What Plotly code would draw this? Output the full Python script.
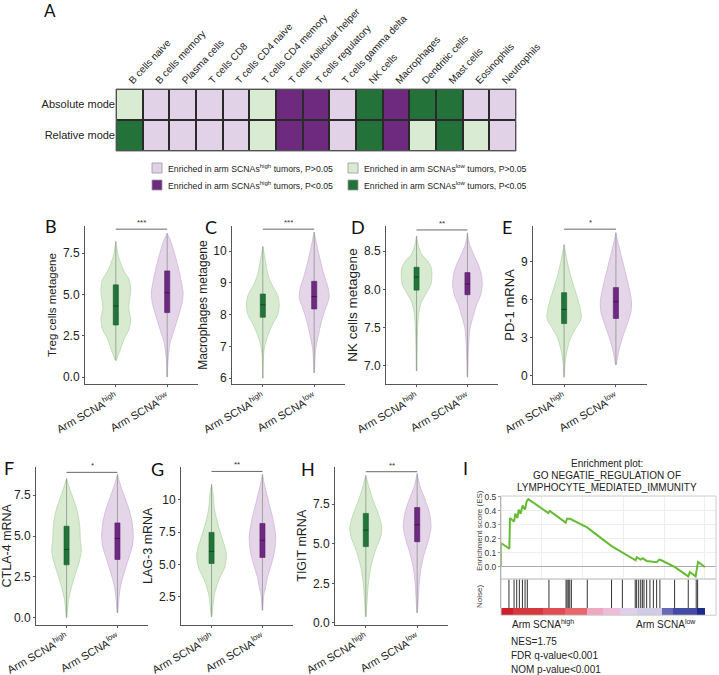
import plotly.graph_objects as go

W, H = 719, 675


def fx(p):
    return p / W


def fy(p):
    return 1 - p / H


# ---------------- Panel A data ----------------
cell_types = ["B cells naive", "B cells memory", "Plasma cells", "T cells CD8",
              "T cells CD4 naive", "T cells CD4 memory", "T cells follicular helper",
              "T cells regulatory", "T cells gamma delta", "NK cells", "Macrophages",
              "Dendritic cells", "Mast cells", "Eosinophils", "Neutrophils"]
modes = ["Absolute mode", "Relative mode"]
# 0 = enriched high P>0.05, 1 = enriched high P<0.05, 2 = enriched low P>0.05, 3 = enriched low P<0.05
absolute_codes = [2, 0, 0, 0, 0, 2, 1, 1, 0, 3, 1, 3, 3, 0, 0]
relative_codes = [3, 0, 0, 0, 0, 2, 1, 1, 0, 3, 1, 2, 3, 2, 0]
legend_labels = ["Enriched in arm SCNAs<sup>high</sup> tumors, P>0.05",
                 "Enriched in arm SCNAs<sup>high</sup> tumors, P<0.05",
                 "Enriched in arm SCNAs<sup>low</sup> tumors, P>0.05",
                 "Enriched in arm SCNAs<sup>low</sup> tumors, P<0.05"]

# ---------------- Violin data (profile: y levels, half widths; box: q1, median, q3) ----------------
group_labels = ["Arm SCNA<sup>high</sup>", "Arm SCNA<sup>low</sup>"]

B_high_y = [1.0, 1.6, 2.3, 2.9, 3.5, 4.2, 4.7, 5.3, 5.9, 6.4, 7.3, 8.2]
B_high_w = [0.01, 0.08, 0.16, 0.26, 0.29, 0.25, 0.27, 0.29, 0.26, 0.16, 0.05, 0.0]
B_high_box = [3.15, 4.3, 5.58]
B_low_y = [0.0, 0.85, 1.5, 2.1, 2.9, 3.7, 4.5, 5.1, 5.5, 6.3, 7.3, 8.3, 8.7]
B_low_w = [0.006, 0.013, 0.03, 0.06, 0.14, 0.22, 0.29, 0.31, 0.29, 0.24, 0.16, 0.06, 0.0]
B_low_box = [3.9, 5.1, 6.42]

C_high_y = [6.0, 6.7, 7.04, 7.35, 7.7, 8.0, 8.3, 8.6, 8.94, 9.26, 9.7, 10.15]
C_high_w = [0.006, 0.013, 0.04, 0.1, 0.19, 0.29, 0.32, 0.29, 0.18, 0.1, 0.05, 0.0]
C_high_box = [7.92, 8.31, 8.65]
C_low_y = [6.17, 6.5, 6.93, 7.35, 7.78, 8.2, 8.52, 8.84, 9.26, 9.7, 10.2, 10.6]
C_low_w = [0.006, 0.013, 0.03, 0.08, 0.14, 0.22, 0.29, 0.27, 0.19, 0.12, 0.05, 0.0]
C_low_box = [8.18, 8.57, 9.05]

D_high_y = [6.93, 7.27, 7.57, 7.71, 7.84, 7.95, 8.06, 8.17, 8.28, 8.37, 8.46, 8.59, 8.70]
D_high_w = [0.006, 0.013, 0.026, 0.05, 0.1, 0.19, 0.28, 0.3, 0.29, 0.22, 0.1, 0.03, 0.0]
D_high_box = [7.99, 8.16, 8.29]
D_low_y = [6.85, 7.09, 7.31, 7.49, 7.62, 7.8, 7.93, 8.06, 8.2, 8.33, 8.46, 8.59, 8.74]
D_low_w = [0.006, 0.013, 0.026, 0.05, 0.1, 0.18, 0.26, 0.29, 0.27, 0.21, 0.12, 0.04, 0.0]
D_low_box = [7.93, 8.07, 8.22]

E_high_y = [-0.1, 1.06, 1.86, 2.92, 3.7, 4.5, 5.3, 6.36, 7.68, 9.0, 10.32]
E_high_w = [0.006, 0.02, 0.05, 0.12, 0.22, 0.33, 0.31, 0.24, 0.14, 0.06, 0.0]
E_high_box = [4.11, 5.22, 6.54]
E_low_y = [0.86, 1.86, 2.92, 3.98, 5.03, 5.83, 6.62, 7.68, 9.0, 10.3, 11.25]
E_low_w = [0.006, 0.05, 0.12, 0.21, 0.29, 0.3, 0.27, 0.21, 0.13, 0.05, 0.0]
E_low_box = [4.51, 5.83, 6.94]

F_high_y = [0.0, 1.11, 1.92, 2.74, 3.55, 4.15, 4.76, 5.57, 6.39, 7.2, 8.0, 8.52]
F_high_w = [0.006, 0.04, 0.1, 0.18, 0.26, 0.29, 0.27, 0.26, 0.22, 0.14, 0.05, 0.0]
F_high_box = [3.24, 4.18, 5.6]
F_low_y = [0.3, 1.11, 1.92, 2.74, 3.55, 4.36, 4.96, 5.78, 6.59, 7.4, 8.2, 8.78]
F_low_w = [0.006, 0.026, 0.06, 0.13, 0.21, 0.29, 0.31, 0.29, 0.23, 0.14, 0.05, 0.0]
F_low_box = [3.57, 4.85, 5.8]

G_high_y = [0.96, 2.25, 2.76, 3.79, 4.81, 5.84, 6.87, 7.89, 9.18, 10.47, 11.18]
G_high_w = [0.006, 0.04, 0.06, 0.14, 0.26, 0.29, 0.22, 0.14, 0.06, 0.03, 0.0]
G_high_box = [5.07, 6.0, 7.47]
G_low_y = [1.47, 2.76, 3.02, 4.04, 5.07, 6.1, 7.12, 8.41, 9.69, 10.97, 11.95]
G_low_w = [0.006, 0.03, 0.05, 0.1, 0.18, 0.24, 0.26, 0.21, 0.13, 0.05, 0.0]
G_low_box = [5.54, 6.86, 8.16]

H_high_y = [0.38, 1.47, 2.52, 3.56, 4.61, 5.45, 6.08, 6.92, 7.75, 8.59, 9.33]
H_high_w = [0.006, 0.026, 0.05, 0.1, 0.19, 0.29, 0.31, 0.24, 0.14, 0.06, 0.0]
H_high_box = [4.82, 5.86, 6.92]
H_low_y = [0.63, 1.47, 2.52, 3.56, 4.4, 5.24, 6.08, 6.92, 7.75, 8.59, 9.43]
H_low_w = [0.006, 0.02, 0.04, 0.08, 0.14, 0.22, 0.27, 0.24, 0.16, 0.06, 0.0]
H_low_box = [5.13, 6.2, 7.29]

panel_titles = ["Treg cells metagene", "Macrophages metagene", "NK cells metagene", "PD-1 mRNA",
                "CTLA-4 mRNA", "LAG-3 mRNA", "TIGIT mRNA"]
panel_letters = ["B", "C", "D", "E", "F", "G", "H"]
panel_stars = ["***", "***", "**", "*", "*", "**", "**"]
panel_yranges = [[-0.42, 9.14], [5.82, 10.79], [6.76, 8.83], [-0.64, 11.78],
                 [-0.41, 9.22], [0.37, 12.51], [-0.1, 9.85]]
panel_tickvals = [[0, 2.5, 5, 7.5], [6, 7, 8, 9, 10], [7.0, 7.5, 8.0, 8.5], [0, 3, 6, 9],
                  [0, 2.5, 5, 7.5], [2.5, 5, 7.5, 10], [0, 2.5, 5, 7.5]]
panel_ticktext = [["0.0", "2.5", "5.0", "7.5"], ["6", "7", "8", "9", "10"],
                  ["7.0", "7.5", "8.0", "8.5"], ["0", "3", "6", "9"],
                  ["0.0", "2.5", "5.0", "7.5"], ["2.5", "5.0", "7.5", "10"],
                  ["0.0", "2.5", "5.0", "7.5"]]

# ---------------- Panel I (GSEA) data ----------------
es_rank = [0, 0, 4.1, 4.4, 6.4, 7.0, 8.0, 8.7, 9.6, 10.6, 11.8, 12.6, 13.4, 23.2, 23.9, 31.7, 32.4,
           33.8, 42.0, 43.0, 54.2, 65.5, 66.0, 66.5, 68.5, 69.4, 71.4, 76.3, 77.6, 78.6, 85.1,
           91.8, 92.6, 95.4, 96.6, 100]
es_score = [0, 0.17, 0.13, 0.35, 0.325, 0.38, 0.35, 0.41, 0.38, 0.44, 0.41, 0.47, 0.485, 0.385,
            0.40, 0.317, 0.345, 0.344, 0.284, 0.274, 0.149, 0.055, 0.048, 0.07, 0.053, 0.062,
            0.043, 0.034, 0.053, 0.048, 0.0, -0.067, -0.036, -0.067, 0.036, 0.0]
hit_ranks = [3.9, 6.4, 7.7, 9.0, 10.5, 11.8, 12.9, 23.5, 31.9, 32.4, 33.0, 33.7, 34.5, 42.3,
             54.2, 59.5, 65.8, 66.5, 67.5, 68.5, 69.3, 70.1, 71.4, 73.0, 74.7, 76.3, 77.9,
             85.1, 91.8, 95.7, 96.4]
metric_edges = [0, 6, 20.8, 31.4, 42, 50.2, 58.3, 66.5, 78.8, 84.5, 95.9, 100]
metric_values = [3.0, 2.6, 2.2, 1.8, 0.8, 0.45, -0.2, -0.45, -1.7, -2.2, -3.0]
gsea_stats = ["NES=1.75", "FDR q-value<0.001", "NOM p-value<0.001"]

# ---------------- Styles ----------------
LP, DP, LG, DG = "#e2d2e7", "#6e2a7f", "#d9ecd3", "#22723a"
V_FILL = {"high": "#d8ebd1", "low": "#e4d5e9"}
V_LINE = {"high": "#b8d6ac", "low": "#cfb6d8"}
BOX_FILL = {"high": "#22743a", "low": "#6e2a80"}
BOX_LINE = {"high": "#1a5c2d", "low": "#561f64"}
MED_LINE = {"high": "#0f3a1a", "low": "#35103e"}
TXT = "#222222"
FONT = "Liberation Sans, Arial, sans-serif"
LETTER_FONT = "Lato, Open Sans, sans-serif"
BOX_HALF = 0.05
title_sizes = [11.5, 12, 13.5, 13, 12.5, 12.5, 12.5]

fig = go.Figure()
layout = {}
shapes = []
annotations = []

# ---------------- Panel A ----------------
fig.add_trace(go.Heatmap(
    z=[absolute_codes, relative_codes], x=cell_types, y=modes, zmin=0, zmax=3,
    colorscale=[[0, LP], [0.1667, LP], [0.1667, DP], [0.5, DP], [0.5, LG], [0.8333, LG],
                [0.8333, DG], [1, DG]],
    showscale=False, xgap=2, ygap=2, hoverinfo="skip", xaxis="x", yaxis="y"))
layout["xaxis"] = dict(domain=[fx(116), fx(516)], anchor="y", side="top", tickangle=-47,
                       tickfont=dict(size=10, color=TXT, family=FONT), showgrid=False,
                       zeroline=False, ticks="", showline=False, automargin=False)
layout["yaxis"] = dict(domain=[fy(151), fy(89)], anchor="x", autorange="reversed",
                       tickfont=dict(size=11, color=TXT, family=FONT), ticks="", showgrid=False,
                       zeroline=False, automargin=False)
shapes.append(dict(type="rect", xref="x domain", yref="y domain", x0=0, x1=1, y0=0, y1=1,
                   fillcolor="#2a2a2a", line=dict(color="#777", width=1), layer="below"))

legend_colors = [LP, DP, LG, DG]
legend_pos = [(152, 168), (152, 185), (348, 168), (348, 185)]
for lab, col, (lx, ly) in zip(legend_labels, legend_colors, legend_pos):
    shapes.append(dict(type="rect", xref="paper", yref="paper", x0=fx(lx), x1=fx(lx + 10),
                       y0=fy(ly + 5), y1=fy(ly - 5), fillcolor=col,
                       line=dict(color="#999", width=0.8)))
    annotations.append(dict(text=lab, xref="paper", yref="paper", x=fx(lx + 14), y=fy(ly),
                            xanchor="left", yanchor="middle", showarrow=False,
                            font=dict(size=8.7, color=TXT, family=FONT)))
annotations.append(dict(text="A", xref="paper", yref="paper", x=fx(50), y=fy(10),
                        xanchor="center", yanchor="middle", showarrow=False,
                        font=dict(size=17, color="#111", family=LETTER_FONT)))

# ---------------- Violin panels ----------------
violin_sets = [
    (B_high_y, B_high_w, B_high_box, B_low_y, B_low_w, B_low_box),
    (C_high_y, C_high_w, C_high_box, C_low_y, C_low_w, C_low_box),
    (D_high_y, D_high_w, D_high_box, D_low_y, D_low_w, D_low_box),
    (E_high_y, E_high_w, E_high_box, E_low_y, E_low_w, E_low_box),
    (F_high_y, F_high_w, F_high_box, F_low_y, F_low_w, F_low_box),
    (G_high_y, G_high_w, G_high_box, G_low_y, G_low_w, G_low_box),
    (H_high_y, H_high_w, H_high_box, H_low_y, H_low_w, H_low_box),
]
# pixel frames (x0, x1, ytop, ybottom) and letter positions
frames = [(85, 198, 226, 384), (232, 345, 226, 384), (386, 498, 226, 384), (533, 647, 226, 384),
          (36, 148, 467, 624.5), (181, 293, 467, 624.5), (335, 448, 467, 624.5)]
letter_pos = [(51, 226), (211, 227), (358, 227), (507, 227), (9, 468), (157, 469), (308, 469)]
bar_level = [0.98, 0.98, 0.975, 0.98, 0.966, 0.972, 0.97]

for i, (vs, fr) in enumerate(zip(violin_sets, frames)):
    k = i + 2
    xa, ya = f"x{k}", f"y{k}"
    hy, hw, hb, ly, lw, lb = vs
    for pos, key, yy, ww, bb in [(0, "high", hy, hw, hb), (1, "low", ly, lw, lb)]:
        xs = [pos + w for w in ww] + [pos - w for w in reversed(ww)]
        ys = list(yy) + list(reversed(yy))
        fig.add_trace(go.Scatter(x=xs, y=ys, mode="lines", fill="toself",
                                 fillcolor=V_FILL[key], line=dict(color=V_LINE[key], width=0.8,
                                                                  shape="spline", smoothing=0.8),
                                 hoverinfo="skip", showlegend=False, xaxis=xa, yaxis=ya))
        fig.add_trace(go.Scatter(x=[pos, pos], y=[yy[0], yy[-1]], mode="lines",
                                 line=dict(color="#8c948c", width=0.8), hoverinfo="skip",
                                 showlegend=False, xaxis=xa, yaxis=ya))
        bx = [pos - BOX_HALF, pos + BOX_HALF, pos + BOX_HALF, pos - BOX_HALF, pos - BOX_HALF]
        by = [bb[0], bb[0], bb[2], bb[2], bb[0]]
        fig.add_trace(go.Scatter(x=bx, y=by, mode="lines", fill="toself",
                                 fillcolor=BOX_FILL[key], line=dict(color=BOX_LINE[key], width=0.6),
                                 hoverinfo="skip", showlegend=False, xaxis=xa, yaxis=ya))
        fig.add_trace(go.Scatter(x=[pos - BOX_HALF, pos + BOX_HALF], y=[bb[1], bb[1]],
                                 mode="lines", line=dict(color=MED_LINE[key], width=0.8),
                                 hoverinfo="skip", showlegend=False, xaxis=xa, yaxis=ya))
    x0, x1, yt, yb = fr
    layout[f"xaxis{k}"] = dict(domain=[fx(x0), fx(x1)], anchor=ya, range=[-0.6, 1.6],
                               tickvals=[0, 1], ticktext=group_labels, tickangle=-30,
                               tickfont=dict(size=11, color=TXT, family=FONT),
                               showline=True, linecolor="#555", linewidth=1, ticks="outside",
                               ticklen=2, tickcolor="#555", showgrid=False, zeroline=False,
                               automargin=False)
    layout[f"yaxis{k}"] = dict(domain=[fy(yb), fy(yt)], anchor=xa, range=panel_yranges[i],
                               tickvals=panel_tickvals[i], ticktext=panel_ticktext[i],
                               tickfont=dict(size=12, color=TXT, family=FONT),
                               title=dict(text=panel_titles[i], standoff=3,
                                          font=dict(size=title_sizes[i], color=TXT, family=FONT)),
                               showline=True, linecolor="#555", linewidth=1, ticks="outside",
                               ticklen=2, tickcolor="#555", showgrid=False, zeroline=False,
                               automargin=False)
    shapes.append(dict(type="line", xref=xa, yref=f"{ya} domain", x0=0, x1=1,
                       y0=bar_level[i], y1=bar_level[i], line=dict(color="#666", width=1)))
    annotations.append(dict(text=panel_stars[i], xref=xa, yref=f"{ya} domain", x=0.5,
                            y=bar_level[i], yanchor="bottom", showarrow=False, yshift=0,
                            font=dict(size=8, color="#333", family=FONT)))
    lx, lyy = letter_pos[i]
    annotations.append(dict(text=panel_letters[i], xref="paper", yref="paper", x=fx(lx),
                            y=fy(lyy), xanchor="center", yanchor="middle", showarrow=False,
                            font=dict(size=18, color="#111", family=LETTER_FONT)))

# ---------------- Panel I ----------------
GX0, GX1 = 501, 716
xr = [0, 105.4]
fig.add_trace(go.Scatter(x=es_rank, y=es_score, mode="lines", line=dict(color="#66bb33", width=2),
                         hoverinfo="skip", showlegend=False, xaxis="x9", yaxis="y9"))
hx, hy = [], []
for r in hit_ranks:
    hx += [r, r, None]
    hy += [0, 1, None]
fig.add_trace(go.Scatter(x=hx, y=hy, mode="lines", line=dict(color="#333", width=1),
                         hoverinfo="skip", showlegend=False, xaxis="x10", yaxis="y10"))
fig.add_trace(go.Heatmap(z=[metric_values], x=metric_edges, y=[0, 1], zmin=-3, zmax=3,
                         colorscale=[[0, "#1c2a8c"], [0.15, "#4a4fa8"], [0.3, "#8c8cc8"],
                                     [0.42, "#cfcbe6"], [0.5, "#e8d4ea"], [0.6, "#f0b4d0"],
                                     [0.72, "#e88a92"], [0.85, "#e35256"], [1, "#cc1f2a"]],
                         showscale=False, hoverinfo="skip", xaxis="x11", yaxis="y11"))
layout["xaxis9"] = dict(domain=[fx(GX0), fx(GX1)], anchor="y9", range=xr, showticklabels=False,
                        showgrid=True, gridcolor="#eeeeee", dtick=20, zeroline=False, ticks="",
                        automargin=False)
layout["yaxis9"] = dict(domain=[fy(579), fy(496)], anchor="x9", range=[-0.086, 0.507], dtick=0.1,
                        tickformat=".1f", tickfont=dict(size=8.5, color="#333", family=FONT),
                        showgrid=True, gridcolor="#eeeeee", zeroline=True, zerolinecolor="#aaa",
                        zerolinewidth=1, showline=True, linecolor="#999", linewidth=1,
                        ticks="outside", ticklen=2, tickcolor="#999", automargin=False)
layout["xaxis10"] = dict(domain=[fx(GX0), fx(GX1)], anchor="y10", range=xr, showticklabels=False,
                         showgrid=False, zeroline=False, ticks="", automargin=False)
layout["yaxis10"] = dict(domain=[fy(608), fy(579)], anchor="x10", range=[0, 1],
                         showticklabels=False, showgrid=False, zeroline=False, ticks="",
                         showline=True, linecolor="#999", linewidth=1, automargin=False)
layout["xaxis11"] = dict(domain=[fx(GX0), fx(GX1)], anchor="y11", range=xr, showticklabels=False,
                         showgrid=False, zeroline=False, ticks="", automargin=False)
layout["yaxis11"] = dict(domain=[fy(615), fy(608)], anchor="x11", range=[0, 1],
                         showticklabels=False, showgrid=False, zeroline=False, ticks="",
                         automargin=False)
shapes.append(dict(type="rect", xref="x9 domain", yref="y9 domain", x0=0, x1=1, y0=0, y1=1,
                   line=dict(color="#cccccc", width=1)))
shapes.append(dict(type="rect", xref="x10 domain", yref="y10 domain", x0=0, x1=1, y0=-0.25, y1=1,
                   line=dict(color="#cccccc", width=1)))

for txt, yy in zip(["Enrichment plot:", "GO NEGATIE_REGULATION OF",
                    "LYMPHOCYTE_MEDIATED_IMMUNITY"], [463, 475, 487]):
    annotations.append(dict(text=txt, xref="paper", yref="paper", x=fx(607), y=fy(yy),
                            xanchor="center", yanchor="middle", showarrow=False,
                            font=dict(size=10, color=TXT, family=FONT)))
annotations.append(dict(text="Enrichment score (ES)", xref="paper", yref="paper", x=fx(479),
                        y=fy(531), textangle=-90, showarrow=False, xanchor="center",
                        yanchor="middle", font=dict(size=8, color="#444", family=FONT)))
annotations.append(dict(text="Noise)", xref="paper", yref="paper", x=fx(479), y=fy(597),
                        textangle=-90, showarrow=False, xanchor="center", yanchor="middle",
                        font=dict(size=8, color="#444", family=FONT)))
annotations.append(dict(text="Arm SCNA<sup>high</sup>", xref="paper", yref="paper", x=fx(543),
                        y=fy(624), showarrow=False, xanchor="center", yanchor="middle",
                        font=dict(size=10, color=TXT, family=FONT)))
annotations.append(dict(text="Arm SCNA<sup>low</sup>", xref="paper", yref="paper", x=fx(666),
                        y=fy(624), showarrow=False, xanchor="center", yanchor="middle",
                        font=dict(size=10, color=TXT, family=FONT)))
for txt, yy in zip(gsea_stats, [641, 655, 669]):
    annotations.append(dict(text=txt, xref="paper", yref="paper", x=fx(509), y=fy(yy),
                            xanchor="left", yanchor="middle", showarrow=False,
                            font=dict(size=10, color=TXT, family=FONT)))
annotations.append(dict(text="I", xref="paper", yref="paper", x=fx(465), y=fy(468),
                        xanchor="center", yanchor="middle", showarrow=False,
                        font=dict(size=18, color="#111", family=LETTER_FONT)))

fig.update_layout(width=W, height=H, margin=dict(l=0, r=0, t=0, b=0), paper_bgcolor="white",
                  plot_bgcolor="white", showlegend=False, shapes=shapes,
                  annotations=annotations, font=dict(family=FONT), **layout)
fig.write_html("out.html", config={"displayModeBar": False},
               post_script="document.body.style.margin='0px';document.body.style.padding='0px';")
